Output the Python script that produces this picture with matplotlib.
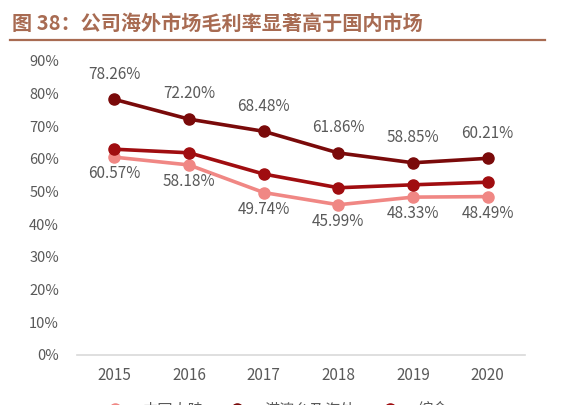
import numpy as np
import matplotlib.pyplot as plt

plt.rcParams['font.family'] = ['Noto Sans CJK SC', 'DejaVu Sans']

years = ["2015", "2016", "2017", "2018", "2019", "2020"]
domestic = [60.57, 58.18, 49.74, 45.99, 48.33, 48.49]
overseas = [78.26, 72.20, 68.48, 61.86, 58.85, 60.21]
overall = [63.0, 61.9, 55.4, 51.2, 52.1, 52.9]

C_DOM = "#F08784"
C_OVS = "#7A0A0A"
C_ALL = "#A00D10"
GRAY = "#595959"

fig = plt.figure(figsize=(5.62, 4.05), dpi=100)
ax = fig.add_axes([77 / 562, 50 / 405, 448 / 562, 294 / 405])

x = np.arange(len(years))
ax.plot(x, np.array(domestic) / 100, "-o", color=C_DOM, lw=2.6, ms=8, label="中国大陆", zorder=3)
ax.plot(x, np.array(overseas) / 100, "-o", color=C_OVS, lw=2.6, ms=8, label="港澳台及海外", zorder=4)
ax.plot(x, np.array(overall) / 100, "-o", color=C_ALL, lw=2.6, ms=8, label="综合", zorder=4)

for i, v in enumerate(overseas):
    ax.annotate(f"{v:.2f}%", (i, v / 100), xytext=(0, 12), textcoords="offset points",
                ha="center", va="bottom", fontsize=11, color=GRAY)
for i, v in enumerate(domestic):
    ax.annotate(f"{v:.2f}%", (i, v / 100), xytext=(0, -6), textcoords="offset points",
                ha="center", va="top", fontsize=11, color=GRAY)

ax.set_xlim(-0.5, len(years) - 0.5)
ax.set_ylim(0, 0.9)
ax.set_xticks(x)
ax.set_xticklabels(years)
ax.set_yticks(np.arange(0, 0.91, 0.1))
ax.set_yticklabels([f"{int(round(t * 100))}%" for t in np.arange(0, 0.91, 0.1)])
ax.tick_params(axis="both", length=0, labelsize=10.5, labelcolor=GRAY)
ax.tick_params(axis="x", labelsize=11)
ax.tick_params(axis="y", pad=13)
ax.tick_params(axis="x", pad=9)
for s in ["top", "right", "left"]:
    ax.spines[s].set_visible(False)
ax.spines["bottom"].set_color("#D9D9D9")
ax.spines["bottom"].set_linewidth(1.2)

# title and underline
fig.text(12 / 562, 1 - 23 / 405, "图 38：公司海外市场毛利率显著高于国内市场",
         fontsize=14.5, fontweight="bold", color="#A86B52", va="center", ha="left")
fig.add_artist(plt.Line2D([10 / 562, 545 / 562], [1 - 40 / 405, 1 - 40 / 405],
                          color="#A86B52", lw=1.6))

fig.legend(loc="center", bbox_to_anchor=(0.487, -0.012), ncol=3, frameon=False,
           fontsize=11, labelcolor=GRAY, handlelength=2.0, handletextpad=0.8,
           columnspacing=1.2)

fig.savefig("out.png", dpi=100)
